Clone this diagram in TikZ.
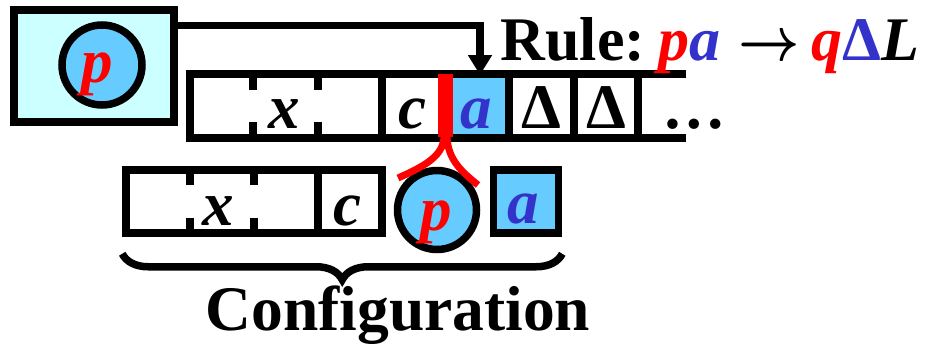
\documentclass[tikz,border=0pt]{standalone}
\usepackage{fix-cm}
\usepackage{fontspec}
\setmainfont{Liberation Serif}[BoldFont={Liberation Serif Bold}, ItalicFont={Liberation Serif Italic}, BoldItalicFont={Liberation Serif Bold Italic}]
\usetikzlibrary{arrows.meta,decorations.pathreplacing,calc}
\definecolor{statebg}{HTML}{CCFFFF}
\definecolor{headbg}{HTML}{66CCFF}
\definecolor{symblue}{HTML}{3333CC}
\definecolor{symred}{HTML}{FF0000}
\begin{document}
\begin{tikzpicture}[x=1pt,y=-1pt,line width=7.5pt,
  sym/.style={font=\rmfamily\fontsize{63}{70}\selectfont\bfseries\itshape, inner sep=0pt, anchor=base},
  lbl/.style={font=\rmfamily\fontsize{63.5}{70}\selectfont\bfseries, inner sep=0pt, anchor=base},
  cellfill/.style={fill=headbg, inner sep=0pt, outer sep=0pt},
  fork/.style={symred, line width=7pt}]
\useasboundingbox (0,0) rectangle (936,346);

% state box
\node[draw, fill=statebg, minimum width=160pt, minimum height=112pt, inner sep=0pt] (state) at (94,66) {};
\node[draw, fill=headbg, circle, minimum size=80pt, inner sep=0pt] (scirc) at (102,65) {};
\node[sym, text=symred] (sp) at (97,82) {p};

% tape
\node[cellfill, minimum width=58pt, minimum height=62pt] (ta) at (480,106) {};
\draw[line join=miter] (686,74) -- (190,74) -- (190,138) -- (686,138);
\foreach \xx in {382,509,574,638} \draw (\xx,74) -- (\xx,138);
\foreach \xx in {253,318} {\draw (\xx,74) -- (\xx,90); \draw (\xx,122) -- (\xx,138);}
\node[fill=symred, minimum width=15pt, minimum height=63pt, inner sep=0pt, outer sep=0pt] (head) at (445.5,105.5) {};
\node[sym] (tx) at (284,128) {x};
\node[sym] (tc) at (412,128) {c};
\node[sym, text=symblue] (tA) at (476,128) {a};
\node[lbl] (td1) at (541,128) {Δ};
\node[lbl] (td2) at (606,128) {Δ};
\node[lbl] (tdots) at (694,128) {…};

% arrow from state to head cell
\draw[-{Triangle[width=23pt,length=20pt]}] ($(state.north east)+(0,19)$) -| (ta.north);

% rule
\node[lbl, anchor=base west, font=\rmfamily\fontsize{62}{70}\selectfont\bfseries] (rule) at (497,60) {Rule:\hspace{13pt}{\itshape\color{symred}p}{\itshape\color{symblue}a}\hspace{18pt}\scalebox{0.86}[1]{\boldmath$\rightarrow$}\hspace{12pt}{\itshape\color{symred}q}{\color{symblue}Δ}{\itshape L}};

% configuration row
\node[draw, minimum width=256pt, minimum height=63pt, inner sep=0pt] (ctape) at (254,201.5) {};
\foreach \xx in {190,254} {\draw (\xx,170) -- (\xx,185); \draw (\xx,218) -- (\xx,233);}
\draw (318,170) -- (318,233);
\node[sym] (cx) at (218,225) {x};
\node[sym] (cc) at (347,225) {c};
\node[draw, fill=headbg, circle, minimum size=79pt, inner sep=0pt] (ccirc) at (437,210) {};
\node[sym, text=symred] (cp) at (436,230) {p};
\node[draw, fill=headbg, minimum width=65pt, minimum height=63pt, inner sep=0pt] (cbox) at (526,201.5) {};
\node[sym, text=symblue] (ca) at (523,223) {a};

% red fork
\draw[fork] ($(head.south)+(-1.5,0)$) .. controls (443,156) and (425,166) .. (398,178);
\draw[fork] ($(head.south)+(1.5,0)$) .. controls (448,160) and (462,172) .. (478,185);

% brace
\draw[decorate, decoration={brace, mirror, amplitude=26pt}] ($(ctape.south west)+(0,17)$) -- ($(cbox.south east)+(0,17)$);
\node[lbl] (config) at (398,330) {Configuration};
\end{tikzpicture}
\end{document}
